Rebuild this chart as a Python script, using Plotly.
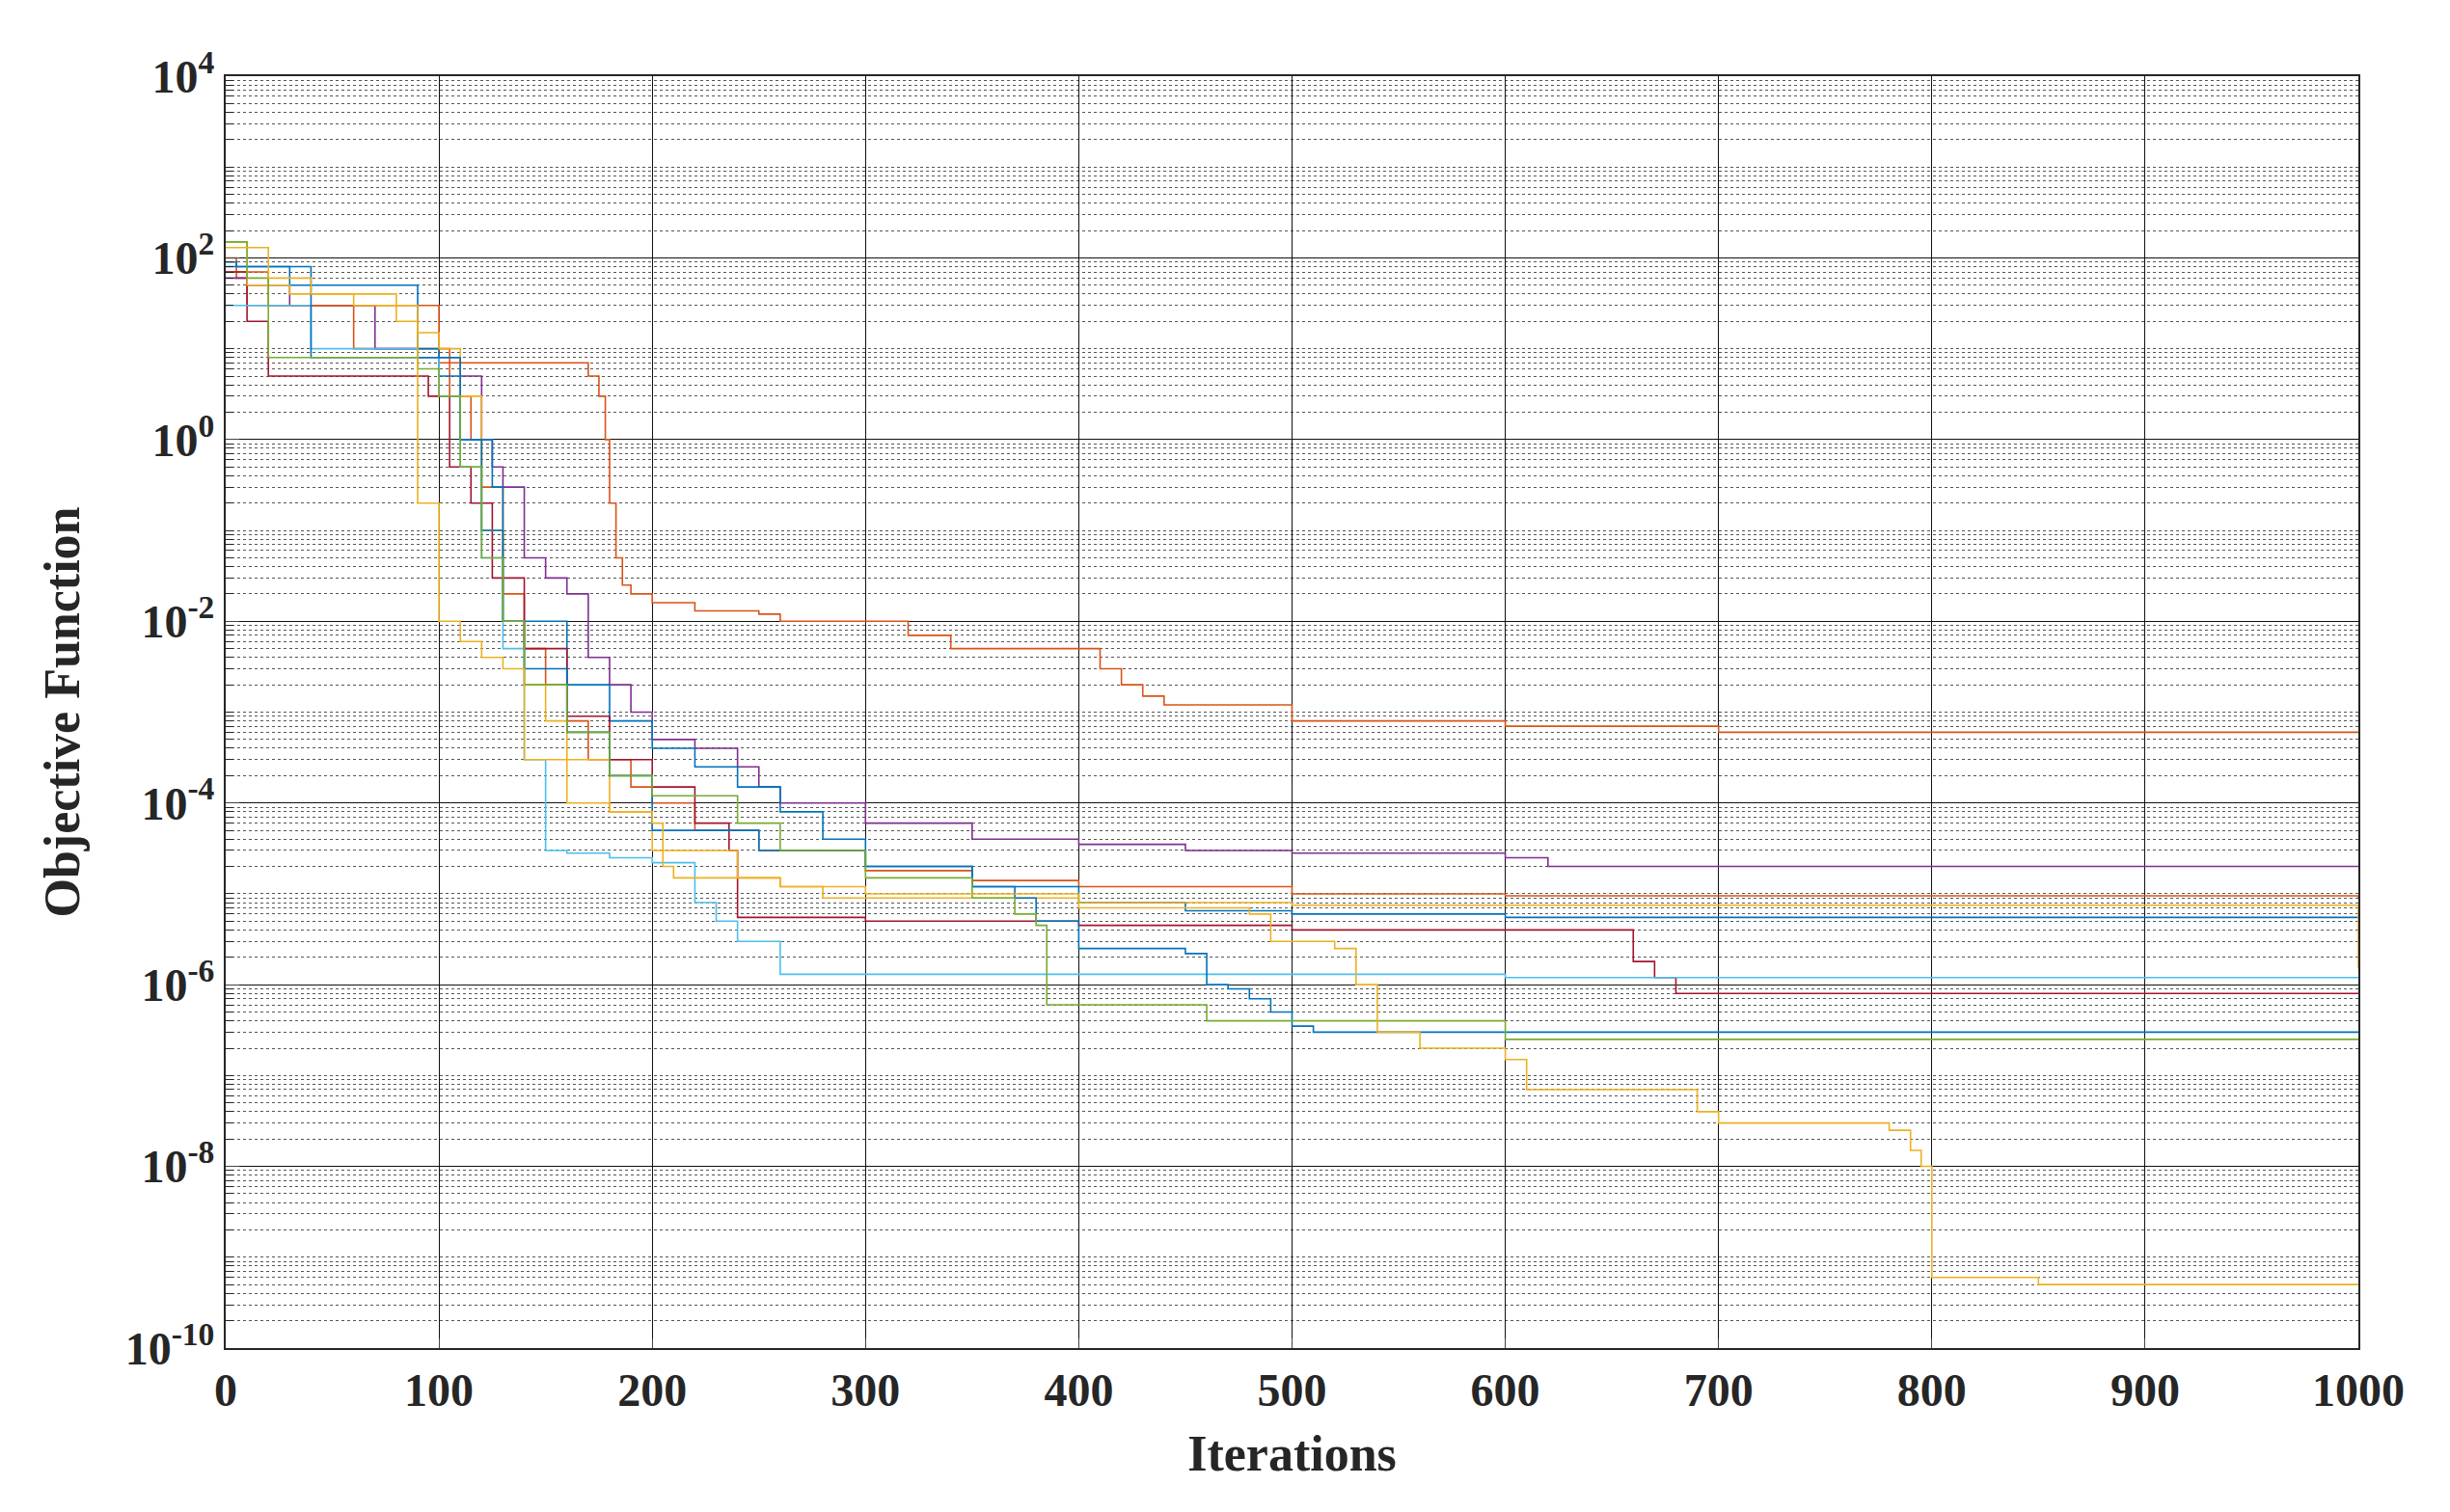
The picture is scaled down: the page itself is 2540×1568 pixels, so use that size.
import plotly.graph_objects as go

colors = ["#D95319", "#7E2F8E", "#D95319", "#0072BD", "#A2142F", "#EDB120", "#4DBEEE", "#0072BD", "#77AC30", "#EDB120"]

s1_x = [0, 5, 10, 30, 60, 100, 165, 170, 175, 178, 180, 183, 186, 190, 200, 220, 250, 260, 300, 320, 340, 400, 410, 420, 430, 440, 490, 500, 600, 700, 1000]
s1_y = [100, 60, 30, 30, 10, 7, 7, 5, 3, 1, 0.2, 0.05, 0.025, 0.02, 0.016, 0.013, 0.012, 0.01, 0.01, 0.007, 0.005, 0.005, 0.003, 0.002, 0.0015, 0.0012, 0.0012, 0.0008, 0.0007, 0.0006, 0.0006]
s2_x = [0, 10, 30, 70, 90, 100, 110, 120, 125, 130, 140, 150, 160, 170, 180, 190, 200, 220, 240, 250, 260, 300, 350, 400, 450, 500, 600, 620, 1000]
s2_y = [60, 50, 30, 10, 8, 8, 5, 1, 0.5, 0.3, 0.05, 0.03, 0.02, 0.004, 0.002, 0.001, 0.0005, 0.0004, 0.00025, 0.00015, 0.0001, 0.00006, 0.00004, 0.000035, 0.00003, 0.000028, 0.000025, 0.00002, 0.00002]
s3_x = [0, 20, 60, 90, 100, 105, 115, 120, 130, 140, 150, 160, 170, 190, 200, 220, 250, 300, 350, 400, 500, 600, 1000]
s3_y = [70, 30, 30, 30, 10, 3, 1, 0.3, 0.02, 0.005, 0.002, 0.0008, 0.0003, 0.00015, 0.0001, 0.00005, 0.00003, 0.000018, 0.000014, 0.000012, 0.00001, 0.0000095, 0.000009]
s4_x = [0, 5, 30, 60, 90, 100, 110, 120, 125, 130, 140, 160, 180, 200, 220, 240, 260, 280, 300, 350, 400, 450, 500, 600, 1000]
s4_y = [90, 80, 50, 50, 10, 5, 1, 1, 0.3, 0.01, 0.01, 0.002, 0.0008, 0.0004, 0.00025, 0.00015, 0.00008, 0.00004, 0.00002, 0.000012, 0.000008, 0.0000065, 0.000006, 0.0000055, 0.0000055]
s5_x = [0, 10, 20, 60, 85, 95, 105, 115, 125, 140, 160, 180, 200, 220, 236, 240, 300, 400, 500, 650, 660, 670, 680, 1000]
s5_y = [70, 20, 5, 5, 5, 3, 0.5, 0.2, 0.03, 0.005, 0.0009, 0.0003, 0.00015, 0.00006, 0.00003, 0.0000055, 0.000005, 0.0000045, 0.000004, 0.000004, 0.0000018, 0.0000012, 0.0000008, 0.0000008]
s6_x = [0, 10, 30, 60, 90, 100, 110, 120, 130, 140, 150, 160, 180, 200, 240, 260, 280, 400, 500, 1000]
s6_y = [150, 50, 40, 30, 15, 10, 3, 0.1, 0.01, 0.002, 0.0008, 0.0003, 0.00008, 0.00003, 0.000015, 0.000012, 0.000009, 0.000008, 0.0000075, 0.0000015]
s7_x = [0, 20, 40, 90, 100, 110, 120, 130, 140, 150, 160, 180, 200, 220, 230, 240, 260, 300, 500, 600, 1000]
s7_y = [30, 30, 10, 8, 3, 0.5, 0.05, 0.005, 0.0003, 0.00003, 0.000028, 0.000025, 0.000022, 0.000008, 0.000005, 0.000003, 0.0000013, 0.0000013, 0.0000013, 0.0000012, 0.0000012]
s8_x = [0, 40, 100, 110, 120, 130, 140, 160, 180, 200, 250, 300, 350, 370, 380, 400, 450, 460, 470, 480, 490, 500, 510, 1000]
s8_y = [80, 8, 8, 1, 0.1, 0.01, 0.003, 0.0006, 0.0002, 0.00005, 0.00003, 0.00002, 0.000012, 0.000009, 0.000005, 0.0000025, 0.0000022, 0.000001, 0.0000009, 0.0000007, 0.0000005, 0.00000035, 0.0000003, 0.0000003]
s9_x = [0, 10, 20, 60, 90, 100, 110, 120, 130, 140, 160, 180, 200, 240, 260, 300, 350, 370, 380, 385, 450, 460, 580, 600, 1000]
s9_y = [150, 60, 8, 8, 6, 3, 0.5, 0.05, 0.01, 0.002, 0.0006, 0.0002, 0.00012, 0.00006, 0.00003, 0.000015, 0.000009, 0.000006, 0.0000045, 0.0000006, 0.0000006, 0.0000004, 0.0000004, 0.00000025, 0.00000025]
s10_x = [0, 20, 40, 80, 90, 100, 110, 120, 130, 140, 160, 180, 200, 205, 210, 260, 300, 400, 480, 490, 520, 530, 540, 560, 600, 610, 680, 690, 700, 780, 790, 795, 800, 850, 1000]
s10_y = [130, 60, 40, 20, 0.2, 0.01, 0.006, 0.004, 0.003, 0.0003, 0.0001, 0.00008, 0.00006, 0.00002, 0.000015, 0.000012, 0.00001, 0.000007, 0.000006, 0.000003, 0.0000025, 0.000001, 0.0000003, 0.0000002, 0.00000015, 0.00000007, 0.00000007, 0.00000004, 0.00000003, 0.000000025, 0.000000015, 0.00000001, 0.0000000006, 0.0000000005, 0.0000000005]

series = [(s1_x, s1_y), (s2_x, s2_y), (s3_x, s3_y), (s4_x, s4_y), (s5_x, s5_y),
          (s6_x, s6_y), (s7_x, s7_y), (s8_x, s8_y), (s9_x, s9_y), (s10_x, s10_y)]

y_tickvals = [1e-10, 1e-8, 1e-6, 1e-4, 1e-2, 1, 1e2, 1e4]
y_ticktext = ["10<sup>-10</sup>", "10<sup>-8</sup>", "10<sup>-6</sup>", "10<sup>-4</sup>",
              "10<sup>-2</sup>", "10<sup>0</sup>", "10<sup>2</sup>", "10<sup>4</sup>"]
x_tickvals = [0, 100, 200, 300, 400, 500, 600, 700, 800, 900, 1000]
x_ticktext = ["0", "100", "200", "300", "400", "500", "600", "700", "800", "900", "1000"]

minor_vals = []
for e in range(-10, 4):
    for m in range(1, 10):
        v = m * 10.0 ** e
        if not (m == 1 and e % 2 == 0):
            minor_vals.append(v)

fig = go.Figure()
for (xs, ys), c in zip(series, colors):
    fig.add_trace(go.Scatter(x=xs, y=ys, mode="lines", line=dict(color=c, width=1.6, shape="hv"),
                             showlegend=False))

tf = dict(size=48, family="Liberation Serif", color="#262626")
fig.update_layout(
    width=2540, height=1568, plot_bgcolor="white", paper_bgcolor="white",
    margin=dict(l=226, r=103, t=71, b=178),
    font=dict(family="Liberation Serif", color="#262626"),
)
fig.update_xaxes(range=[0, 1000], tickvals=x_tickvals, ticktext=["<b>%s</b>" % t for t in x_ticktext],
                 showgrid=True, gridcolor="#111111", gridwidth=1,
                 showline=True, linecolor="#262626", linewidth=2, mirror=True, ticks="inside", ticklen=10,
                 tickfont=tf,
                 title=dict(text="<b>Iterations</b>", font=dict(size=52, family="Liberation Serif", color="#262626"), standoff=22),
                 zeroline=False)
fig.update_yaxes(type="log", range=[-10, 4], tickvals=y_tickvals, ticktext=["<b>%s</b>" % t for t in y_ticktext],
                 showgrid=True, gridcolor="#111111", gridwidth=1,
                 minor=dict(tickvals=minor_vals, showgrid=True, gridcolor="#555555", griddash="dot", gridwidth=1,
                            ticks="inside", ticklen=8, tickcolor="#262626"),
                 showline=True, linecolor="#262626", linewidth=2, mirror=True, ticks="inside", ticklen=14,
                 tickfont=tf,
                 title=dict(text="<b>Objective Function</b>", font=dict(size=52, family="Liberation Serif", color="#262626"), standoff=30),
                 zeroline=False)
fig.write_html("out.html")
